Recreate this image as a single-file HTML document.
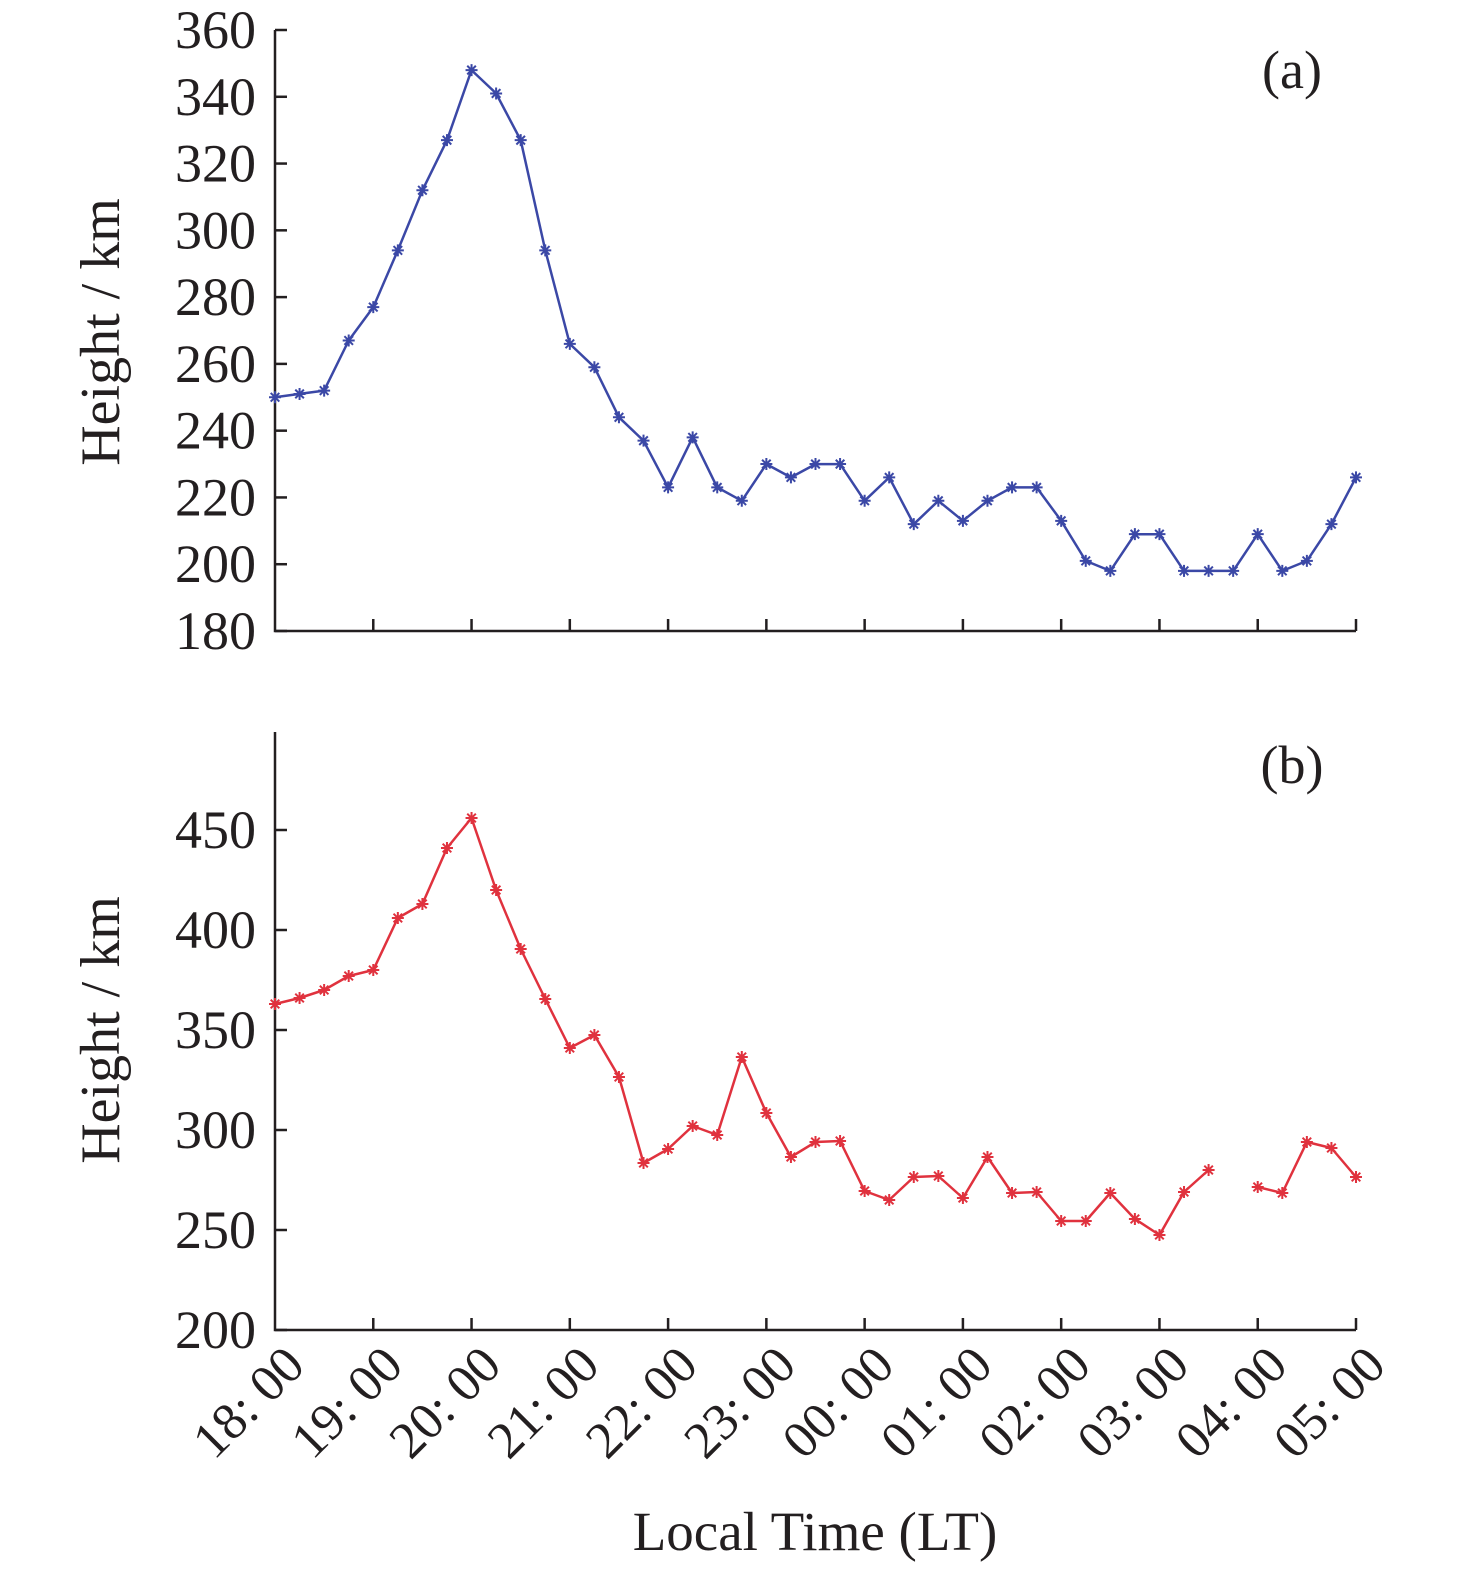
<!DOCTYPE html>
<html><head><meta charset="utf-8"><style>
html,body{margin:0;padding:0;background:#fff;}
svg{display:block;}
text{font-family:"Liberation Serif",serif;fill:#231f20;}
</style></head><body>
<svg id="chart" width="1476" height="1569" viewBox="0 0 1476 1569"></svg>
<script>
const timeLabels=["18: 00","19: 00","20: 00","21: 00","22: 00","23: 00","00: 00","01: 00","02: 00","03: 00","04: 00","05: 00"];
const seriesA=[250,251,252,267,277,294,312,327,348,341,327,294,266,259,244,237,223,238,223,219,230,226,230,230,219,226,212,219,213,219,223,223,213,201,198,209,209,198,198,198,209,198,201,212,226];
const seriesB=[363,366,370,377,380,406,413,441,456,420,390.5,365.5,341,347.5,326.5,283.5,290.5,302,297.5,336.5,308.5,286.5,294,294.5,269.5,265,276.5,277,266,286.5,268.5,269,254.5,254.5,268.5,255.5,247.5,269,280,null,271.5,268.5,294,291,276.5];
const ticksA=[180,200,220,240,260,280,300,320,340,360];
const ticksB=[200,250,300,350,400,450];

const NS="http://www.w3.org/2000/svg";
const svg=document.getElementById('chart');
function mk(tag,attrs,parent){const e=document.createElementNS(NS,tag);for(const k in attrs)e.setAttribute(k,attrs[k]);(parent||svg).appendChild(e);return e;}
const X0=275,X1=1356;
function xs(i){return X0+(X1-X0)*i/44;}

function panel(cfg){
  const g=mk('g',{});
  
  
  const ys=v=>cfg.yBot-(v-cfg.vmin)*(cfg.yBot-cfg.yRef)/(cfg.vref-cfg.vmin);
  const ax=mk('path',{d:`M${X0} ${cfg.yTop} V${cfg.yBot} H${X1}`,stroke:'#231f20','stroke-width':2.5,fill:'none'},g);
  
  
  cfg.ticks.forEach(t=>{
    const y=ys(t);
    mk('line',{x1:X0,x2:X0+12,y1:y,y2:y,stroke:'#231f20','stroke-width':2.5},g);
    const tx=mk('text',{x:256,y:y+18,'text-anchor':'end','font-size':54},g);
    tx.textContent=t;
    
    
  });
  for(let h=1;h<timeLabels.length;h++){
    const x=xs(h*4);
    mk('line',{x1:x,x2:x,y1:cfg.yBot,y2:cfg.yBot-12,stroke:'#231f20','stroke-width':2.5},g);
  }
  const yt=mk('text',{x:0,y:0,'text-anchor':'middle','font-size':56,transform:`translate(119 ${cfg.titleY}) rotate(-90)`},g);
  yt.textContent='Height / km';
  
  
  const lb=mk('text',{x:1292,y:cfg.labelY,'text-anchor':'middle','font-size':54},g);
  lb.textContent=cfg.label;
  
  
  let d='',pen=false;
  cfg.data.forEach((v,i)=>{
    if(v===null){pen=false;return;}
    d+=(pen?'L':'M')+xs(i).toFixed(1)+' '+ys(v).toFixed(1)+' ';pen=true;
  });
  const ln=mk('path',{d:d,stroke:cfg.color,'stroke-width':2.5,fill:'none','stroke-linejoin':'round'},g);
  
  
  cfg.data.forEach((v,i)=>{
    if(v===null)return;
    const x=xs(i),y=ys(v),r=6;
    const m=mk('path',{d:`M${x-r} ${y}H${x+r}M${x} ${y-r}V${y+r}M${x-4.3} ${y-4.3}L${x+4.3} ${y+4.3}M${x-4.3} ${y+4.3}L${x+4.3} ${y-4.3}`,stroke:cfg.color,'stroke-width':2},g);
    
    
  });
}
panel({name:'panel-a',yTop:30,yBot:631,yRef:30,vmin:180,vref:360,ticks:ticksA,data:seriesA,color:'#3b48a6',label:'(a)',labelY:88,titleY:332});
panel({name:'panel-b',yTop:732,yBot:1330,yRef:830,vmin:200,vref:450,ticks:ticksB,data:seriesB,color:'#e0323e',label:'(b)',labelY:783,titleY:1030});

timeLabels.forEach((t,h)=>{
  const x=xs(h*4);
  const tx=mk('text',{x:0,y:0,'text-anchor':'end','font-size':52,transform:`translate(${x+32} ${1368}) rotate(-45)`});
  tx.textContent=t;
  
  
});
const xt=mk('text',{x:815,y:1550,'text-anchor':'middle','font-size':55});
xt.textContent='Local Time (LT)';


</script>
</body></html>
